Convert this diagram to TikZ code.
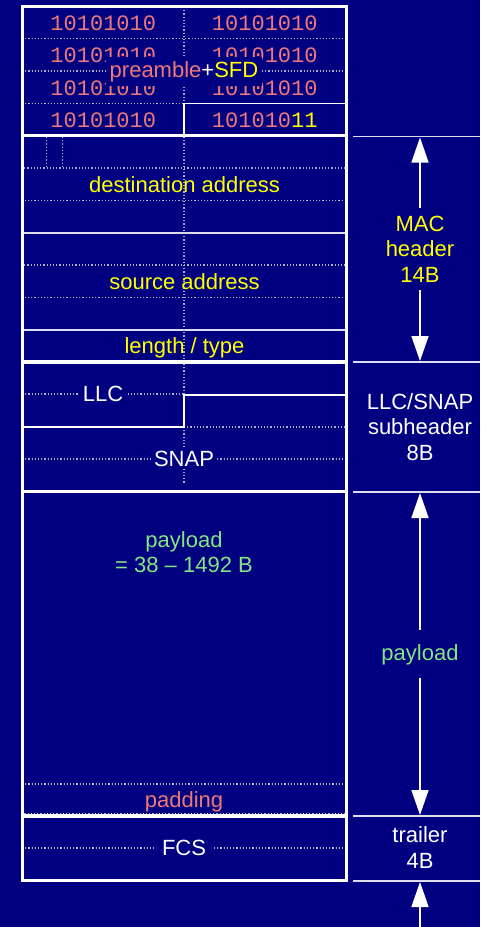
\documentclass[tikz,border=0pt]{standalone}
\usepackage{fontspec}
\setmainfont{Liberation Sans}
\newfontfamily\monofont{Liberation Mono}
\usetikzlibrary{arrows.meta}
\definecolor{bg}{RGB}{0,0,128}
\definecolor{salmon}{RGB}{240,120,120}
\definecolor{yel}{RGB}{255,255,0}
\definecolor{grn}{RGB}{128,232,128}
\definecolor{dotc}{RGB}{176,176,196}
\definecolor{tickc}{RGB}{220,220,235}
\begin{document}
\begin{tikzpicture}[x=1pt,y=-1pt,
  framel/.style={white,line width=3pt},
  sepl/.style={white,line width=3.5pt},
  solidl/.style={white,line width=1.5pt},
  greyl/.style={tickc,line width=1.5pt},
  dotl/.style={dotc,line width=1.2pt,dash pattern=on 1.2pt off 2pt},
  lbl/.style={font=\fontsize{22}{25}\selectfont,text=white,inner sep=0pt,anchor=base},
  bits/.style={font=\monofont\fontsize{22}{25}\selectfont,text=salmon,inner sep=0pt,anchor=base},
  gapl/.style={font=\fontsize{22}{25}\selectfont,text=white,fill=bg,inner xsep=5pt,inner ysep=2pt,anchor=base},
  tickl/.style={tickc,line width=1.5pt},
  arr/.style={white,line width=1.5pt,-{Triangle[length=25pt,width=17pt]}},
  mlbl/.style={font=\fontsize{22}{25.5}\selectfont,text=white,align=center,inner sep=0pt},
]
\fill[bg] (0,0) rectangle (480,927);
\useasboundingbox (0,0) rectangle (480,927);

% ---------- preamble ----------
\draw[dotl] (22,38.3) -- (346,38.3);
\draw[dotl] (22,71) -- (346,71);
\draw[dotl] (22,103.3) -- (184,103.3);
\draw[dotl] (184,7) -- (184,103.3);
\draw[solidl] (184,135) -- (184,103.3) -- (346,103.3);
\node[bits] (b1l) at (103.3,30) {10101010};
\node[bits] (b1r) at (264.8,30) {10101010};
\node[bits] (b2l) at (103.3,62) {10101010};
\node[bits] (b2r) at (264.8,62) {10101010};
\node[bits] (b3l) at (103.3,95) {10101010};
\node[bits] (b3r) at (264.8,95) {10101010};
\node[bits] (b4l) at (103.3,127) {10101010};
\node[bits] (b4r) at (264.8,127) {101010\textcolor{yel}{11}};
\node[gapl,inner xsep=4pt,inner ysep=4pt] (pre) at (184,77) {\textcolor{salmon}{preamble}+\textcolor{yel}{SFD}};

% ---------- MAC header ----------
\draw[dotl] (46.7,137) -- (46.7,168);
\draw[dotl] (62.7,137) -- (62.7,168);
\draw[dotl] (22.3,168) rectangle (346.3,200.7);
\draw[greyl] (22.5,233) -- (346,233);
\draw[dotl] (22.3,265) rectangle (346.3,297.7);
\draw[greyl] (22.5,330) -- (346,330);
\draw[dotl] (184,137) -- (184,361);
\node[lbl,text=yel] (dst) at (184.5,192) {destination address};
\node[lbl,text=yel] (src) at (184.5,289) {source address};
\node[lbl,text=yel] (lt) at (184.5,353) {length / type};

% ---------- LLC / SNAP ----------
\draw[dotl] (184,364) -- (184,395);
\draw[dotl] (184,427) -- (184,483);
\draw[dotl] (22,394) -- (184,394);
\draw[dotl] (184,427) -- (346,427);
\draw[dotl] (22,459) -- (346,459);
\draw[solidl] (22.5,427) -- (184,427) -- (184,395) -- (346,395);
\node[gapl] (llc) at (103,401) {LLC};
\node[gapl,inner xsep=3pt] (snap) at (184,466) {SNAP};

% ---------- payload ----------
\node[mlbl,text=grn] (pl) at (184,552) {payload\\= 38 – 1492 B};
\draw[dotl] (22.3,784) rectangle (346.3,814);
\node[lbl,text=salmon] (pad) at (184,807) {padding};

% ---------- FCS ----------
\draw[dotl] (22,848) -- (346,848);
\node[gapl,inner xsep=6pt] (fcs) at (184,855) {FCS};

% ---------- frame ----------
\draw[framel] (22.5,6.7) rectangle (346.5,880.5);
\draw[sepl] (22.5,135.5) -- (346.5,135.5);
\draw[sepl] (22.5,362) -- (346.5,362);
\draw[sepl] (22.5,491.5) -- (346.5,491.5);
\draw[sepl] (22.5,816) -- (346.5,816);

% ---------- right side ----------
\coordinate (t1a) at (353,136.5); \coordinate (t1b) at (480,136.5);
\coordinate (t2a) at (353,362); \coordinate (t2b) at (480,362);
\coordinate (t3a) at (353,492); \coordinate (t3b) at (480,492);
\coordinate (t4a) at (353,816); \coordinate (t4b) at (480,816);
\coordinate (t5a) at (353,881); \coordinate (t5b) at (480,881);
\draw[tickl] (t1a) -- (t1b);
\draw[tickl] (t2a) -- (t2b);
\draw[tickl] (t3a) -- (t3b);
\draw[tickl] (t4a) -- (t4b);
\draw[tickl] (t5a) -- (t5b);

\node[mlbl,text=yel] (mac) at (420,249) {MAC\\header\\14B};
\coordinate (macA) at (420,208); \coordinate (macTop) at (420,137.5);
\coordinate (macB) at (420,290); \coordinate (macBot) at (420,361);
\draw[arr] (macA) -- (macTop);
\draw[arr] (macB) -- (macBot);

\node[mlbl] (llcsnap) at (420,427) {LLC/SNAP\\subheader\\8B};

\node[lbl,text=grn] (pay) at (420,660) {payload};
\coordinate (payA) at (420,630); \coordinate (payTop) at (420,493);
\coordinate (payB) at (420,678); \coordinate (payBot) at (420,815);
\draw[arr] (payA) -- (payTop);
\draw[arr] (payB) -- (payBot);

\node[mlbl] (trl) at (420,847.5) {trailer\\4B};
\coordinate (trA) at (420,927); \coordinate (trBot) at (420,882);
\draw[arr] (trA) -- (trBot);
\end{tikzpicture}
\end{document}
